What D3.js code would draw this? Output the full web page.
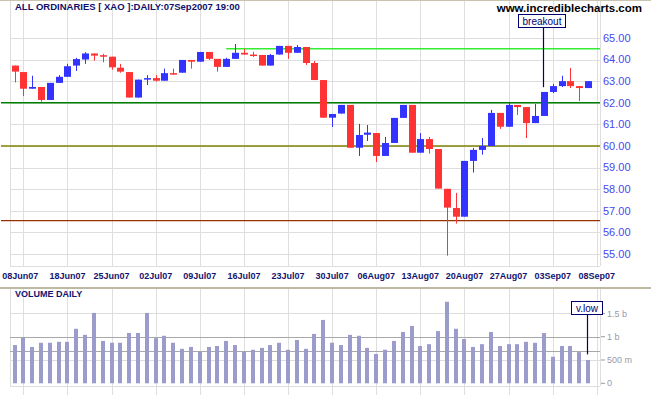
<!DOCTYPE html>
<html><head><meta charset="utf-8">
<script src="https://cdn.jsdelivr.net/npm/d3@7/dist/d3.min.js"></script>
<style>html,body{margin:0;padding:0;background:#fff;}svg{display:block;font-family:Arial,"Liberation Sans",sans-serif;}</style>
</head><body><svg id="c" width="651" height="395"></svg>
<script>
// ---- data ----
const dates = ["07Jun07","08Jun07","12Jun07","13Jun07","14Jun07","15Jun07","18Jun07","19Jun07","20Jun07","21Jun07","22Jun07",
"25Jun07","26Jun07","27Jun07","28Jun07","29Jun07","02Jul07","03Jul07","04Jul07","05Jul07","06Jul07",
"09Jul07","10Jul07","11Jul07","12Jul07","13Jul07","16Jul07","17Jul07","18Jul07","19Jul07","20Jul07",
"23Jul07","24Jul07","25Jul07","26Jul07","27Jul07","30Jul07","31Jul07","01Aug07","02Aug07","03Aug07",
"06Aug07","07Aug07","08Aug07","09Aug07","10Aug07","13Aug07","14Aug07","15Aug07","16Aug07","17Aug07",
"20Aug07","21Aug07","22Aug07","23Aug07","24Aug07","27Aug07","28Aug07","29Aug07","30Aug07","31Aug07",
"03Sep07","04Sep07","05Sep07","06Sep07","07Sep07"];
const open  = [63.72,63.42,62.65,62.73,62.13,62.92,63.20,63.72,64.00,64.28,64.20,64.13,63.62,63.42,62.24,63.07,63.14,63.02,63.37,63.39,63.98,63.90,64.35,64.03,63.66,64.03,64.31,64.23,64.21,63.72,64.23,64.63,64.31,64.58,63.84,63.05,61.31,61.50,61.90,59.92,60.52,60.60,59.54,60.14,61.30,61.90,59.69,60.32,59.86,58.02,57.13,56.73,59.31,59.82,60.00,61.53,60.89,61.90,61.80,61.06,61.39,62.50,62.77,63.00,62.77,62.68];
const high  = [63.72,63.42,63.25,62.73,62.92,63.28,63.80,64.08,64.34,64.28,64.26,64.13,63.80,63.42,63.07,63.28,63.28,63.58,63.58,63.98,63.98,64.35,64.35,64.03,64.08,64.72,64.49,64.35,64.21,64.26,64.63,64.63,64.67,64.58,63.93,63.05,61.48,61.90,61.90,61.02,60.97,60.60,60.42,61.30,61.90,61.90,60.60,60.42,59.86,58.02,57.83,59.31,59.91,60.37,61.67,61.53,62.04,61.90,61.80,61.94,62.50,62.87,63.25,63.61,62.77,63.00];
const low   = [62.94,62.31,62.65,62.05,62.13,62.92,63.20,63.47,63.80,63.95,63.87,63.53,63.39,62.24,62.24,62.82,62.98,63.02,63.31,63.39,63.58,63.90,63.98,63.44,63.66,64.03,64.23,64.12,63.72,63.72,64.23,64.03,64.31,63.75,63.05,61.30,60.88,61.50,59.92,59.54,60.23,59.26,59.54,60.14,61.30,59.69,59.69,59.65,58.03,54.93,56.41,56.73,58.77,59.60,60.00,60.79,60.89,61.43,60.37,61.06,61.39,62.45,62.73,62.68,62.08,62.68];
const close = [63.44,62.65,62.73,62.13,62.92,63.20,63.69,64.02,64.28,64.18,64.15,63.64,63.44,62.24,63.07,63.14,63.02,63.37,63.32,63.98,63.90,64.35,64.03,63.66,64.03,64.31,64.23,64.18,63.72,64.21,64.63,64.31,64.58,63.84,63.05,61.31,61.48,61.90,59.92,60.51,60.62,59.54,60.14,61.30,61.90,59.69,60.32,59.86,58.03,57.15,56.73,59.31,59.82,60.00,61.53,60.89,61.90,61.80,61.06,61.39,62.50,62.77,63.00,62.77,62.68,63.00];
// volume in billions
const volume = [0.82,0.98,0.78,0.87,0.87,0.89,0.89,1.17,1.04,1.51,0.91,0.87,0.87,1.08,1.08,1.51,0.97,1.02,0.87,0.74,0.78,0.68,0.78,0.80,0.91,0.82,0.68,0.72,0.76,0.82,0.87,0.72,0.93,0.74,1.06,1.36,0.87,0.82,1.04,1.02,0.76,0.63,0.72,0.91,1.10,1.23,0.80,0.84,1.12,1.75,1.17,0.95,0.78,0.84,1.10,0.80,0.84,0.84,0.89,0.87,1.08,0.57,0.80,0.80,0.67,0.50];
const xTickLabels = ["08Jun07","18Jun07","25Jun07","02Jul07","09Jul07","16Jul07","23Jul07","30Jul07","06Aug07","13Aug07","20Aug07","27Aug07","03Sep07","08Sep07"];
const priceTicks = [55,56,57,58,59,60,61,62,63,64,65];
const volTicks = [0,0.5,1,1.5];
const volTickLabels = ["0","500 m","1 b","1.5 b"];
const levelPrices = [64.5,62,60,56.55];
const levelStart = ["12Jul07",null,null,null];
const volRefLines = [1.0,0.69];
const title = "ALL ORDINARIES [ XAO ]:DAILY:07Sep2007 19:00";
const breakout = {date:"31Aug07", price:62.72, text:"breakout"};
const vlow = {date:"07Sep07", vol:0.62, text:"v.low"};

// ---- drawing ----
const svg = d3.select("#c");
svg.append("rect").attr("width",651).attr("height",395).attr("fill","#fff");
const idx = d => { const i = dates.indexOf(d); return i < 0 ? dates.length : i; };
const x = d3.scaleLinear().domain([0, 66]).range([14.5, 14.5 + 66*8.823]);
const y = d3.scaleLinear().domain([55, 65]).range([254.1, 37.9]);
const yv = d3.scaleLinear().domain([0, 2]).range([383.3, 290.1]);
const L = 10, R = 600, PT = 1, PB = 266, VT = 289, VB = 386;
const grid = "#dedede";
const crisp = v => Math.round(v) + 0.5;

// top border
svg.append("line").attr("x1",0).attr("x2",651).attr("y1",0.5).attr("y2",0.5).attr("stroke","#c8c4b0");

// price grid
const gP = svg.append("g");
gP.selectAll("line.h").data(priceTicks).join("line")
  .attr("x1",L).attr("x2",R).attr("y1",d=>crisp(y(d))).attr("y2",d=>crisp(y(d))).attr("stroke",grid);
gP.selectAll("line.v").data(xTickLabels).join("line")
  .attr("x1",d=>crisp(x(idx(d)))).attr("x2",d=>crisp(x(idx(d)))).attr("y1",PT).attr("y2",PB).attr("stroke",grid);
gP.append("line").attr("x1",L+0.5).attr("x2",L+0.5).attr("y1",PT).attr("y2",PB).attr("stroke",grid);
gP.append("line").attr("x1",R+0.5).attr("x2",R+0.5).attr("y1",PT).attr("y2",PB).attr("stroke",grid);
gP.append("line").attr("x1",L).attr("x2",R).attr("y1",PB+0.5).attr("y2",PB+0.5).attr("stroke",grid);

// level lines
const levelColors = ["#33ee33","#008000","#808000","#993300"];
svg.selectAll("line.lvl").data(levelPrices).join("line")
  .attr("x1",(d,i)=> levelStart[i] ? x(idx(levelStart[i])) : 1).attr("x2",R)
  .attr("y1",d=>y(d)).attr("y2",d=>y(d))
  .attr("stroke",(d,i)=>levelColors[i]).attr("stroke-width",1.4);

// candles
const data = dates.map((d,i)=>({i, o:open[i], h:high[i], l:low[i], c:close[i]}));
const cg = svg.append("g").selectAll("g").data(data).join("g");
const col = d => d.c >= d.o ? "#3333ff" : "#ff3333";
cg.append("line").attr("x1",d=>Math.round(x(d.i))+0.5).attr("x2",d=>Math.round(x(d.i))+0.5)
  .attr("y1",d=>y(d.h)).attr("y2",d=>y(d.l)).attr("stroke",col).attr("stroke-width",1);
cg.append("rect").attr("x",d=>Math.round(x(d.i))-3).attr("width",7)
  .attr("y",d=>y(Math.max(d.o,d.c))).attr("height",d=>Math.max(1.5, y(Math.min(d.o,d.c))-y(Math.max(d.o,d.c))))
  .attr("fill",col);

// price axis labels
svg.selectAll("text.pl").data(priceTicks).join("text")
  .attr("x",603).attr("y",d=>y(d)).attr("dy","0.35em")
  .attr("font-size",11).attr("fill","#4848ee").text(d=>d.toFixed(2));

// x labels
svg.selectAll("text.xl").data(xTickLabels).join("text")
  .attr("x",(d,i)=> i===0 ? x(idx(d))-3 : x(idx(d))).attr("y",276).attr("dy","0.35em")
  .attr("text-anchor","middle").attr("font-size",9).attr("font-weight","bold").attr("fill","#14146e").text(d=>d);

// title & site
svg.append("text").attr("x",15).attr("y",10).attr("font-size",9.5).attr("font-weight","bold").attr("fill","#10106a").text(title);
svg.append("text").attr("x",642).attr("y",12).attr("text-anchor","end").attr("font-size",11.5).attr("font-weight","bold").attr("fill","#000").text("www.incrediblecharts.com");

// breakout annotation
const bx = x(idx(breakout.date));
svg.append("line").attr("x1",Math.round(bx)-0.5).attr("x2",Math.round(bx)-0.5).attr("y1",27).attr("y2",y(breakout.price)).attr("stroke","#000070").attr("stroke-width",1.2);
svg.append("rect").attr("x",518.5).attr("y",14.5).attr("width",47).attr("height",13).attr("fill","#fff").attr("stroke","#000070");
svg.append("text").attr("x",542).attr("y",21).attr("dy","0.35em").attr("text-anchor","middle").attr("font-size",10).attr("fill","#000070").text(breakout.text);

// separator
svg.append("line").attr("x1",0).attr("x2",651).attr("y1",288).attr("y2",288).attr("stroke","#bdb9a3").attr("stroke-width",2);

// volume grid
const gV = svg.append("g");
gV.selectAll("line.v").data(xTickLabels).join("line")
  .attr("x1",d=>crisp(x(idx(d)))).attr("x2",d=>crisp(x(idx(d)))).attr("y1",VT).attr("y2",395).attr("stroke",grid);
gV.append("line").attr("x1",L+0.5).attr("x2",L+0.5).attr("y1",VT).attr("y2",VB).attr("stroke",grid);
gV.append("line").attr("x1",R+0.5).attr("x2",R+0.5).attr("y1",VT).attr("y2",VB).attr("stroke",grid);
gV.selectAll("line.h").data([0.5,1.5]).join("line")
  .attr("x1",L).attr("x2",R).attr("y1",d=>crisp(yv(d))).attr("y2",d=>crisp(yv(d))).attr("stroke",grid);
gV.append("line").attr("x1",L).attr("x2",R).attr("y1",VB+0.5).attr("y2",VB+0.5).attr("stroke",grid);
gV.selectAll("line.r").data(volRefLines).join("line")
  .attr("x1",L).attr("x2",R).attr("y1",d=>crisp(yv(d))).attr("y2",d=>crisp(yv(d))).attr("stroke","#a8a8a8");

// volume bars
svg.append("g").selectAll("rect").data(volume).join("rect")
  .attr("x",(d,i)=>Math.round(x(i))-2).attr("width",4)
  .attr("y",d=>yv(d)).attr("height",d=>yv(0)-yv(d)).attr("fill","#9c9ccc");

// volume axis
svg.selectAll("line.vt").data(volTicks).join("line")
  .attr("x1",601).attr("x2",605).attr("y1",d=>yv(d)).attr("y2",d=>yv(d)).attr("stroke","#9999aa");
svg.selectAll("text.vl").data(volTicks).join("text")
  .attr("x",607).attr("y",d=>yv(d)).attr("dy","0.35em").attr("font-size",9).attr("fill","#9999aa")
  .text((d,i)=>volTickLabels[i]);

svg.append("text").attr("x",15).attr("y",294).attr("dy","0.35em").attr("font-size",9).attr("font-weight","bold").attr("fill","#14146e").text("VOLUME DAILY");

// v.low annotation
const vx = x(idx(vlow.date));
svg.append("line").attr("x1",Math.round(vx)-0.5).attr("x2",Math.round(vx)-0.5).attr("y1",314).attr("y2",yv(vlow.vol)).attr("stroke","#000070").attr("stroke-width",1.2);
svg.append("rect").attr("x",571.5).attr("y",301.5).attr("width",31).attr("height",13).attr("fill","#fff").attr("stroke","#000070");
svg.append("text").attr("x",587).attr("y",308).attr("dy","0.35em").attr("text-anchor","middle").attr("font-size",10).attr("fill","#000070").text(vlow.text);
</script></body></html>
